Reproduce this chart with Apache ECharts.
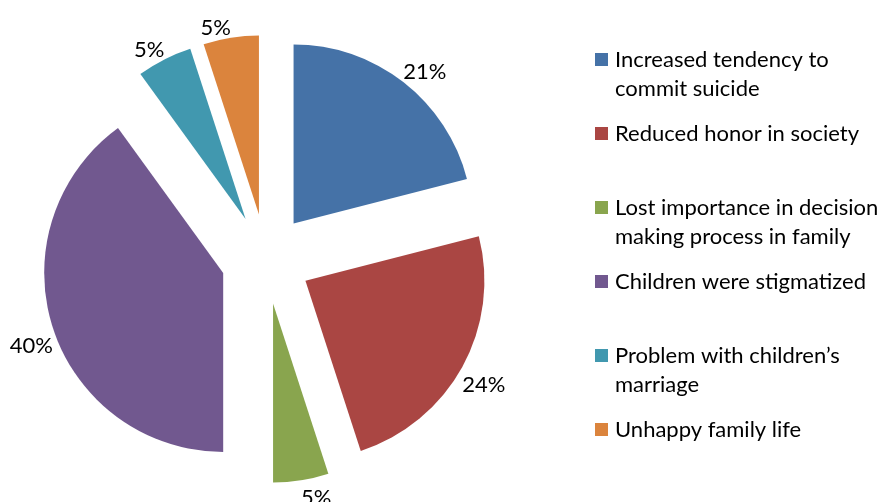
<!DOCTYPE html>
<html>
<head>
<meta charset="utf-8">
<title>Consequences for the family</title>
<script src="https://cdn.jsdelivr.net/npm/echarts@6/dist/echarts.min.js"></script>
<style>
  html, body { margin: 0; padding: 0; background: #ffffff; }
  #chart { width: 885px; height: 502px; }
</style>
</head>
<body>
<div id="chart"></div>
<script>
// Category names (line breaks are where the legend wraps)
const categories = [
  'Increased tendency to\ncommit suicide',
  'Reduced honor in society',
  'Lost importance in decision\nmaking process in family',
  'Children were stigmatized',
  'Problem with children\u2019s\nmarriage',
  'Unhappy family life'
];
// Share of respondents, percent
const shares = [21, 24, 5, 40, 5, 5];
const colors = ['#4572A7', '#AA4643', '#89A54E', '#71588F', '#4198AF', '#DB843D'];

const FONT = 'Lato, "Open Sans", sans-serif';
const FONT_SIZE = 22;
const PIE_CENTER = [266, 259];
const PIE_RADIUS = 179;
const EXPLODE = 45;

// every slice is pulled out from the centre
const slices = categories.map((name, i) => ({
  name: name,
  value: shares[i],
  selected: true,
  itemStyle: { color: colors[i] }
}));

// invisible pie whose rim runs through the middle of each exploded arc;
// its outside labels are anchored there by a corner
const labelRing = categories.map((name, i) => ({ name: name, value: shares[i] }));

// legend swatches drawn as rich-text boxes so they line up with the first line
const rich = {
  g: { width: 7 },
  ind: { width: 20 }
};
colors.forEach((c, i) => {
  rich['m' + i] = { width: 13, height: 13, backgroundColor: c };
});

const chart = echarts.init(document.getElementById('chart'), null, { renderer: 'canvas' });
chart.setOption({
  animation: false,
  backgroundColor: '#ffffff',
  legend: {
    orient: 'vertical',
    left: 585,
    top: 40,
    itemWidth: 0,
    itemHeight: 0,
    itemGap: 16,
    selectedMode: false,
    data: categories,
    formatter: function (name) {
      const i = categories.indexOf(name);
      const parts = name.split('\n');
      return '{m' + i + '|}{g|}' + parts[0] + '\n{ind|}' + (parts[1] || '');
    },
    textStyle: {
      fontFamily: FONT,
      fontSize: FONT_SIZE,
      color: '#000000',
      lineHeight: 29,
      rich: rich
    }
  },
  series: [
    {
      type: 'pie',
      center: PIE_CENTER,
      radius: PIE_RADIUS,
      startAngle: 90,
      clockwise: true,
      selectedMode: 'multiple',
      selectedOffset: EXPLODE,
      silent: true,
      label: { show: false },
      labelLine: { show: false },
      emphasis: { disabled: true },
      data: slices
    },
    {
      type: 'pie',
      center: PIE_CENTER,
      radius: PIE_RADIUS + EXPLODE,
      startAngle: 90,
      clockwise: true,
      silent: true,
      avoidLabelOverlap: false,
      itemStyle: { color: 'rgba(0,0,0,0)' },
      label: {
        show: true,
        position: 'outside',
        formatter: '{c}%',
        distanceToLabelLine: 0,
        fontFamily: FONT,
        fontSize: FONT_SIZE,
        lineHeight: 28,
        color: '#000000'
      },
      labelLine: { show: false, length: 0, length2: 0 },
      labelLayout: function (params) {
        const r = params.labelRect;
        const right = params.align === 'left';
        const ax = right ? r.x : r.x + r.width;
        const ay = r.y + r.height / 2;
        return {
          x: ax,
          y: ay + 4,
          align: right ? 'left' : 'right',
          verticalAlign: ay < PIE_CENTER[1] ? 'bottom' : 'top'
        };
      },
      emphasis: { disabled: true },
      data: labelRing
    }
  ]
});
</script>
</body>
</html>
